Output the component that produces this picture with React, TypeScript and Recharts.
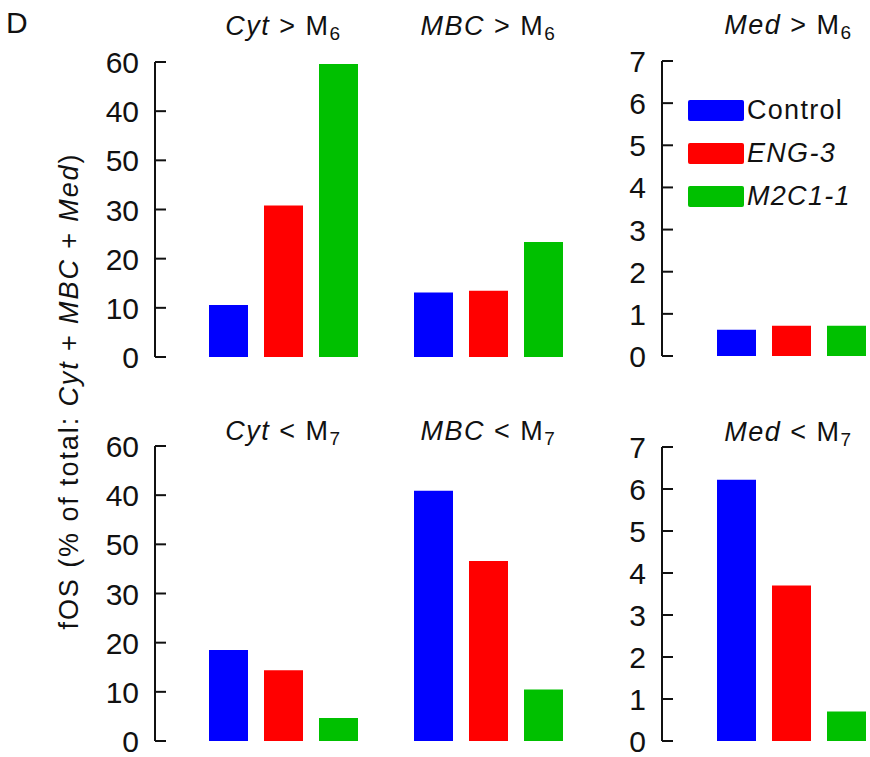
import { BarChart, Bar, XAxis, YAxis, Legend } from "recharts"

const PANELS = ["Cyt", "MBC", "Med"]
const GROUPS = ["Control", "ENG-3", "M2C1-1"]
const COLORS = ["#0000FF", "#FF0000", "#00C000"]

// upper row: "> M6"
const TOP_CONTROL = [10.6, 13.1, 0.62]
const TOP_ENG3 = [30.8, 13.5, 0.72]
const TOP_M2C1 = [59.6, 23.4, 0.72]

// lower row: "< M7"
const BOTTOM_CONTROL = [18.5, 50.9, 6.22]
const BOTTOM_ENG3 = [14.4, 36.6, 3.7]
const BOTTOM_M2C1 = [4.7, 10.5, 0.7]

const LEFT_TICKS = [0, 10, 20, 30, 40, 50, 60]
// printed labels, bottom to top (the original swaps 40 and 50)
const LEFT_TICK_LABELS = ["0", "10", "20", "30", "50", "40", "60"]
const RIGHT_TICKS = [0, 1, 2, 3, 4, 5, 6, 7]
const RIGHT_TICK_LABELS = ["0", "1", "2", "3", "4", "5", "6", "7"]

const FONT = "'Liberation Sans', Arial, sans-serif"
const INK = "#111"

const buildRows = (control: number[], eng: number[], m2c: number[], idx: number[]) =>
  idx.map((i) => ({
    panel: PANELS[i],
    [GROUPS[0]]: control[i],
    [GROUPS[1]]: eng[i],
    [GROUPS[2]]: m2c[i],
  }))

const ValueTick = (props: any) => {
  const { x, y, payload, ticks, labels } = props
  const label = labels[ticks.indexOf(payload.value)]
  return (
    <g>
      <line x1={x} x2={x + 11} y1={y} y2={y} stroke={INK} strokeWidth={2} />
      <text x={x - 16} y={y + 11} textAnchor="end" fontSize={30} fontFamily={FONT} fill={INK}>
        {label}
      </text>
    </g>
  )
}

const TitleTick = (props: any) => {
  const { x, y, payload, gap, rel, sub, shift } = props
  return (
    <text
      x={x + shift}
      y={y - gap}
      textAnchor="middle"
      fontSize={27}
      fontFamily={FONT}
      fill={INK}
      style={{ letterSpacing: 1.5 }}
    >
      <tspan fontStyle="italic">{payload.value}</tspan>
      <tspan>{` ${rel} M`}</tspan>
      <tspan fontSize={19} dy={5}>
        {sub}
      </tspan>
    </text>
  )
}

const LegendBox = (props: any) => {
  const { payload } = props
  return (
    <div>
      {(payload || []).map((p: any, i: number) => (
        <div key={p.value} style={{ display: "flex", alignItems: "center", height: 43 }}>
          <div style={{ width: 56, height: 21, background: p.color, borderRadius: 2 }} />
          <span
            style={{
              marginLeft: 3,
              fontSize: 27,
              lineHeight: 1,
              letterSpacing: 1.3,
              fontFamily: FONT,
              color: INK,
              fontStyle: i === 0 ? "normal" : "italic",
            }}
          >
            {p.value}
          </span>
        </div>
      ))}
    </div>
  )
}

type PanelProps = {
  left: number
  top: number
  width: number
  height: number
  margin: { top: number; right: number; bottom: number; left: number }
  data: any[]
  yWidth: number
  ticks: number[]
  labels: string[]
  padLeft: number
  titleGap: number
  titleShift?: number
  rel: string
  sub: string
  legend?: boolean
}

function Panel(p: PanelProps) {
  const max = p.ticks[p.ticks.length - 1]
  return (
    <div style={{ position: "absolute", left: p.left, top: p.top }}>
      <BarChart width={p.width} height={p.height} data={p.data} margin={p.margin} barSize={39} barGap={16}>
        <XAxis
          dataKey="panel"
          orientation="top"
          height={30}
          axisLine={false}
          tickLine={false}
          tickSize={0}
          tickMargin={0}
          interval={0}
          padding={{ left: p.padLeft, right: 0 }}
          tick={(t: any) => (
            <TitleTick {...t} gap={p.titleGap} rel={p.rel} sub={p.sub} shift={p.titleShift || 0} />
          )}
        />
        <YAxis
          type="number"
          domain={[0, max]}
          ticks={p.ticks}
          interval={0}
          width={p.yWidth}
          axisLine={{ stroke: INK, strokeWidth: 2 }}
          tickLine={false}
          tickSize={0}
          tickMargin={0}
          allowDataOverflow
          tick={(t: any) => <ValueTick {...t} ticks={p.ticks} labels={p.labels} />}
        />
        {GROUPS.map((g, i) => (
          <Bar key={g} dataKey={g} name={g} fill={COLORS[i]} isAnimationActive={false} />
        ))}
        {p.legend && (
          <Legend
            layout="horizontal"
            verticalAlign="middle"
            align="center"
            content={<LegendBox />}
            wrapperStyle={{ left: 128, top: 89, width: 182 }}
          />
        )}
      </BarChart>
    </div>
  )
}

export default function App() {
  const topLeft = buildRows(TOP_CONTROL, TOP_ENG3, TOP_M2C1, [0, 1])
  const topRight = buildRows(TOP_CONTROL, TOP_ENG3, TOP_M2C1, [2])
  const botLeft = buildRows(BOTTOM_CONTROL, BOTTOM_ENG3, BOTTOM_M2C1, [0, 1])
  const botRight = buildRows(BOTTOM_CONTROL, BOTTOM_ENG3, BOTTOM_M2C1, [2])

  return (
    <div
      style={{
        position: "absolute",
        left: 0,
        top: 0,
        width: 870,
        height: 757,
        background: "#fff",
        fontFamily: FONT,
        color: INK,
        overflow: "hidden",
      }}
    >
      <svg width={870} height={757} style={{ position: "absolute", left: 0, top: 0 }}>
        <text x={6} y={33} fontSize={30} fontFamily={FONT} fill={INK}>
          D
        </text>
        <text
          transform="translate(78,391) rotate(-90)"
          textAnchor="middle"
          fontSize={27}
          fontFamily={FONT}
          fill={INK}
          style={{ letterSpacing: 1.9 }}
        >
          <tspan>fOS (% of total: </tspan>
          <tspan fontStyle="italic">Cyt</tspan>
          <tspan> + </tspan>
          <tspan fontStyle="italic">MBC</tspan>
          <tspan> + </tspan>
          <tspan fontStyle="italic">Med</tspan>
          <tspan>)</tspan>
        </text>
      </svg>

      <Panel
        left={0}
        top={0}
        width={600}
        height={380}
        margin={{ top: 32, right: 9, bottom: 23, left: 95 }}
        data={topLeft}
        yWidth={60}
        ticks={LEFT_TICKS}
        labels={LEFT_TICK_LABELS}
        padLeft={26}
        titleGap={27}
        rel=">"
        sub="6"
      />
      <Panel
        left={560}
        top={0}
        width={310}
        height={380}
        margin={{ top: 31, right: 0, bottom: 24, left: 62 }}
        data={topRight}
        yWidth={40}
        ticks={RIGHT_TICKS}
        labels={RIGHT_TICK_LABELS}
        padLeft={51}
        titleGap={27}
        titleShift={-3}
        rel=">"
        sub="6"
        legend
      />
      <Panel
        left={0}
        top={380}
        width={600}
        height={377}
        margin={{ top: 36, right: 9, bottom: 16, left: 95 }}
        data={botLeft}
        yWidth={60}
        ticks={LEFT_TICKS}
        labels={LEFT_TICK_LABELS}
        padLeft={26}
        titleGap={6}
        rel="<"
        sub="7"
      />
      <Panel
        left={560}
        top={380}
        width={310}
        height={377}
        margin={{ top: 37, right: 0, bottom: 16, left: 62 }}
        data={botRight}
        yWidth={40}
        ticks={RIGHT_TICKS}
        labels={RIGHT_TICK_LABELS}
        padLeft={51}
        titleGap={6}
        titleShift={-3}
        rel="<"
        sub="7"
      />
    </div>
  )
}
